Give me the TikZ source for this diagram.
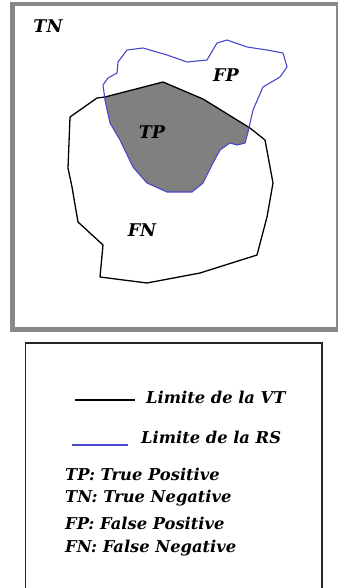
\documentclass[tikz,border=0pt]{standalone}
\usepackage{fontspec}
\setmainfont{DejaVu Serif}
\definecolor{rsblue}{RGB}{72,72,205}
\definecolor{tpgray}{RGB}{128,128,128}
\definecolor{framegray}{RGB}{136,136,136}
\tikzset{
  lbl/.style={font=\bfseries\itshape\fontsize{17.5}{19}\selectfont, inner sep=0pt},
  leg/.style={font=\bfseries\itshape\fontsize{16.3}{18}\selectfont, inner sep=0pt, anchor=west},
  vtline/.style={black, line width=1.3pt, line join=round},
  rsline/.style={rsblue, line width=1.1pt, line join=round}
}
\begin{document}
\begin{tikzpicture}[x=1pt, y=-1pt]
  \useasboundingbox (0,0) rectangle (337,588);
  % outer frame (image)
  \draw[framegray, line width=4.5pt] (12.5,4) rectangle (338,329.5);
  % true positive zone: RS clipped by VT
  \begin{scope}
    \clip (97,98) -- (70,117) -- (68,168) -- (72,187) -- (78,222) -- (103,245)
      -- (100,277) -- (147,283) -- (200,273) -- (257,255) -- (267,217)
      -- (273,183) -- (265,140) -- (250,128) -- (203,99) -- (163,82) -- (105,97) -- cycle;
    \fill[tpgray] (103,85) -- (105,100) -- (110,123) -- (120,140) -- (133,167)
      -- (147,183) -- (167,192) -- (192,192) -- (203,183) -- (213,163)
      -- (220,150) -- (230,143) -- (237,145) -- (245,143) -- (248,132)
      -- (253,110) -- (263,87) -- (280,77) -- (287,67) -- (283,53)
      -- (267,50) -- (247,47) -- (227,40) -- (217,43) -- (207,60)
      -- (187,62) -- (167,55) -- (143,48) -- (127,50) -- (118,62)
      -- (117,73) -- (108,78) -- cycle;
  \end{scope}
  % VT boundary
  \draw[vtline] (97,98) -- (70,117) -- (68,168) -- (72,187) -- (78,222) -- (103,245)
    -- (100,277) -- (147,283) -- (200,273) -- (257,255) -- (267,217)
    -- (273,183) -- (265,140) -- (250,128) -- (203,99) -- (163,82) -- (105,97) -- cycle;
  % RS boundary
  \draw[rsline] (103,85) -- (105,100) -- (110,123) -- (120,140) -- (133,167)
    -- (147,183) -- (167,192) -- (192,192) -- (203,183) -- (213,163)
    -- (220,150) -- (230,143) -- (237,145) -- (245,143) -- (248,132)
    -- (253,110) -- (263,87) -- (280,77) -- (287,67) -- (283,53)
    -- (267,50) -- (247,47) -- (227,40) -- (217,43) -- (207,60)
    -- (187,62) -- (167,55) -- (143,48) -- (127,50) -- (118,62)
    -- (117,73) -- (108,78) -- cycle;
  \node[lbl] (tn) at (48,26) {TN};
  \node[lbl] (fp) at (226,75) {FP};
  \node[lbl] (tp) at (152,132) {TP};
  \node[lbl] (fn) at (142,230) {FN};
  % legend
  \draw[black!85, line width=1.5pt] (25.5,343) rectangle (322,592);
  \coordinate (vta) at (75,400);
  \coordinate (vtb) at (135,400);
  \coordinate (rsa) at (72,445);
  \coordinate (rsb) at (128,445);
  \draw[black, line width=1.2pt] (vta) -- (vtb);
  \draw[rsblue, line width=1.2pt] (rsa) -- (rsb);
  \node[leg] (vtlbl) at (146,397) {Limite de la VT};
  \node[leg] (rslbl) at (141,437) {Limite de la RS};
  \node[leg] (tpdef) at (65,474) {TP: True Positive};
  \node[leg] (tndef) at (65,498) {TN: True Negative};
  \node[leg] (fpdef) at (65,523) {FP: False Positive};
  \node[leg] (fndef) at (65,548) {FN: False Negative};
\end{tikzpicture}
\end{document}
